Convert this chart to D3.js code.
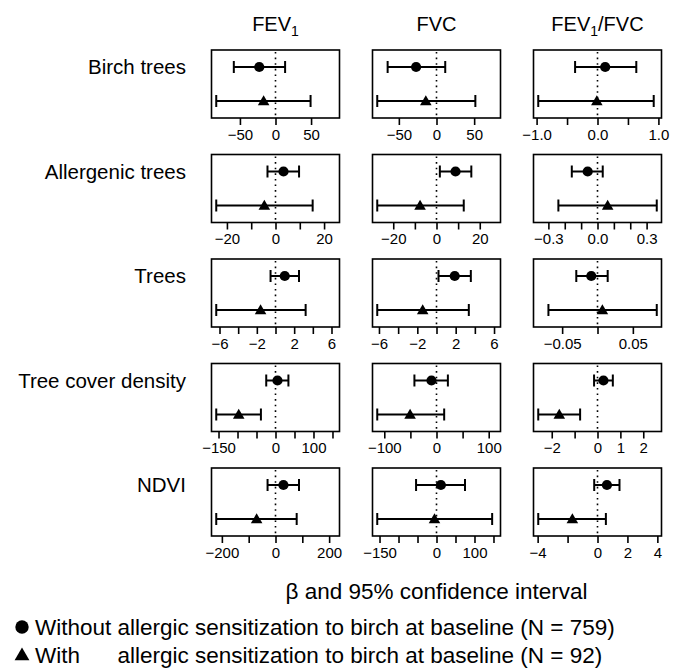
<!DOCTYPE html>
<html>
<head>
<meta charset="utf-8">
<script src="https://cdn.jsdelivr.net/npm/d3@7"></script>
<style>
  body { margin: 0; background: #fff; }
  text { font-family: "Liberation Sans", Arial, sans-serif; fill: #000; }
</style>
</head>
<body>
<svg class="forest" width="684" height="669"></svg>
<script>
// exposures (rows) and outcomes (columns)
const exposures = ['Birch trees', 'Allergenic trees', 'Trees', 'Tree cover density', 'NDVI'];
const outcomes = ['FEV1', 'FVC', 'FEV1/FVC'];

// [lower, beta, upper] per exposure
const fev1Without = [[-58.6, -22.8, 13.5], [-3.3, 3.3, 9.7], [-0.53, 0.99, 2.52], [-24.4, 5.2, 34], [-29.6, 29.6, 87.6]];
const fev1With = [[-83.3, -16.7, 49.3], [-24.4, -4.6, 15.3], [-6.35, -1.6, 3.23], [-156, -96.8, -38.4], [-221, -70.4, 79]];
const fvcWithout = [[-64.9, -27.1, 11.6], [1.55, 8.8, 16.1], [0.21, 1.9, 3.58], [-42.3, -9.6, 21.8], [-53.8, 11.5, 75]];
const fvcWith = [[-78.7, -14.2, 51.6], [-27.4, -7.6, 12.6], [-6.18, -1.44, 3.37], [-113.5, -50.6, 14.7], [-156, -5.3, 146.5]];
const ratioWithout = [[-0.368, 0.126, 0.637], [-0.157, -0.06, 0.032], [-0.03, -0.0088, 0.0144], [-0.15, 0.26, 0.67], [-0.22, 0.63, 1.47]];
const ratioWith = [[-0.973, -0.011, 0.923], [-0.239, 0.062, 0.362], [-0.0694, 0.0069, 0.0838], [-2.59, -1.67, -0.76], [-3.96, -1.68, 0.56]];

// tick positions and the labels R kept
const fev1Ticks = [[-50, 0, 50], [-20, -10, 0, 10, 20], [-6, -4, -2, 0, 2, 4, 6], [-150, -100, -50, 0, 50, 100, 150], [-200, -100, 0, 100, 200]];
const fev1Labels = [['−50', '0', '50'], ['−20', '', '0', '', '20'], ['−6', '', '−2', '', '2', '', '6'], ['−150', '', '', '0', '', '100', ''], ['−200', '', '0', '', '200']];
const fvcTicks = [[-50, 0, 50], [-20, -10, 0, 10, 20], [-6, -4, -2, 0, 2, 4, 6], [-100, -50, 0, 50, 100], [-150, -100, -50, 0, 50, 100, 150]];
const fvcLabels = [['−50', '0', '50'], ['−20', '', '0', '', '20'], ['−6', '', '−2', '', '2', '', '6'], ['−100', '', '0', '', '100'], ['−150', '', '', '0', '', '100', '']];
const ratioTicks = [[-1, -0.5, 0, 0.5, 1], [-0.3, -0.2, -0.1, 0, 0.1, 0.2, 0.3], [-0.05, 0, 0.05], [-2, -1, 0, 1, 2], [-4, -2, 0, 2, 4]];
const ratioLabels = [['−1.0', '', '0.0', '', '1.0'], ['−0.3', '', '', '0.0', '', '', '0.3'], ['−0.05', '', '0.05'], ['−2', '', '0', '1', '2'], ['−4', '', '0', '2', '4']];

const svg = d3.select('.forest');

const colLeft = 211.5, colStep = 161, panelW = 128;
const rowTop = 50, rowStep = 104.5, panelH = 68;

const columns = [
    { without: fev1Without, with: fev1With, ticks: fev1Ticks, labels: fev1Labels },
    { without: fvcWithout, with: fvcWith, ticks: fvcTicks, labels: fvcLabels },
    { without: ratioWithout, with: ratioWith, ticks: ratioTicks, labels: ratioLabels }
];

const circle = d3.symbol().type(d3.symbolCircle).size(82);
const triangle = d3.symbol().type(d3.symbolTriangle).size(58);

// column headers, [text, isSubscript]
const headers = [
    [['FEV', 0], ['1', 1]],
    [['FVC', 0]],
    [['FEV', 0], ['1', 1], ['/FVC', 0]]
];
headers.forEach((parts, c) => {
    const t = svg.append('text')
        .attr('x', colLeft + c * colStep + panelW / 2)
        .attr('y', 31)
        .attr('text-anchor', 'middle')
        .style('font-size', '20px');
    let prevSub = 0;
    parts.forEach(([s, sub]) => {
        t.append('tspan')
            .attr('dy', sub ? 5 : (prevSub ? -5 : 0))
            .style('font-size', sub ? '14px' : '20px')
            .text(s);
        prevSub = sub;
    });
});

exposures.forEach((name, r) => {
    const top = rowTop + r * rowStep;
    const y = d3.scaleLinear().domain([0.5, 2.5]).range([top + panelH, top]);

    svg.append('text')
        .attr('x', 186)
        .attr('y', y(2) + 7)
        .attr('text-anchor', 'end')
        .style('font-size', '20.5px')
        .text(name);

    columns.forEach((col, c) => {
        const left = colLeft + c * colStep;
        const a = col.without[r], b = col.with[r];
        const maxAbs = d3.max([...a, ...b], v => Math.abs(v)) * 1.08;
        const x = d3.scaleLinear().domain([-maxAbs, maxAbs]).range([left, left + panelW]);

        const g = svg.append('g');

        // zero line
        g.append('line')
            .attr('x1', x(0)).attr('x2', x(0))
            .attr('y1', top + 2).attr('y2', top + panelH)
            .attr('stroke', '#000')
            .attr('stroke-width', 1.6)
            .attr('stroke-dasharray', '1.6 4');

        const series = [
            { v: a, yy: y(2), sym: circle },
            { v: b, yy: y(1), sym: triangle }
        ];
        series.forEach(s => {
            g.append('line')
                .attr('x1', x(s.v[0])).attr('x2', x(s.v[2]))
                .attr('y1', s.yy).attr('y2', s.yy)
                .attr('stroke', '#000').attr('stroke-width', 2);
            [s.v[0], s.v[2]].forEach(e => {
                g.append('line')
                    .attr('x1', x(e)).attr('x2', x(e))
                    .attr('y1', s.yy - 6).attr('y2', s.yy + 6)
                    .attr('stroke', '#000').attr('stroke-width', 2);
            });
            g.append('path')
                .attr('d', s.sym())
                .attr('transform', `translate(${x(s.v[1])},${s.yy + (s.sym === triangle ? 1 : 0)})`)
                .attr('fill', '#000');
        });

        // box
        g.append('rect')
            .attr('x', left).attr('y', top)
            .attr('width', panelW).attr('height', panelH)
            .attr('fill', 'none')
            .attr('stroke', '#000')
            .attr('stroke-width', 1.6);

        const ticks = col.ticks[r], labels = col.labels[r];
        const axis = d3.axisBottom(x)
            .tickValues(ticks)
            .tickFormat((d, i) => labels[i])
            .tickSize(7)
            .tickPadding(4);

        const axisG = g.append('g')
            .attr('transform', `translate(0, ${top + panelH})`)
            .call(axis);
        axisG.select('.domain').remove();
        axisG.selectAll('.tick line').attr('stroke-width', 1.6);
        axisG.selectAll('.tick text')
            .attr('font-family', null)
            .style('font-size', '15px');
    });
});

// axis title
svg.append('text')
    .attr('x', colLeft + colStep + panelW / 2)
    .attr('y', 599)
    .attr('text-anchor', 'middle')
    .style('font-size', '22.5px')
    .text('β and 95% confidence interval');

// legend
svg.append('path')
    .attr('d', d3.symbol().type(d3.symbolCircle).size(140)())
    .attr('transform', 'translate(22, 627)');
svg.append('path')
    .attr('d', d3.symbol().type(d3.symbolTriangle).size(95)())
    .attr('transform', 'translate(22, 656)');

const l1 = svg.append('text')
    .attr('x', 35).attr('y', 635)
    .style('font-size', '22.5px');
const w1 = l1.append('tspan').text('Without ');
l1.append('tspan').text('allergic sensitization to birch at baseline (N = 759)');

const indent = w1.node().getComputedTextLength();
svg.append('text')
    .attr('x', 35).attr('y', 663)
    .style('font-size', '22.5px')
    .text('With');
svg.append('text')
    .attr('x', 35 + indent).attr('y', 663)
    .style('font-size', '22.5px')
    .text('allergic sensitization to birch at baseline (N = 92)');
</script>
</body>
</html>
